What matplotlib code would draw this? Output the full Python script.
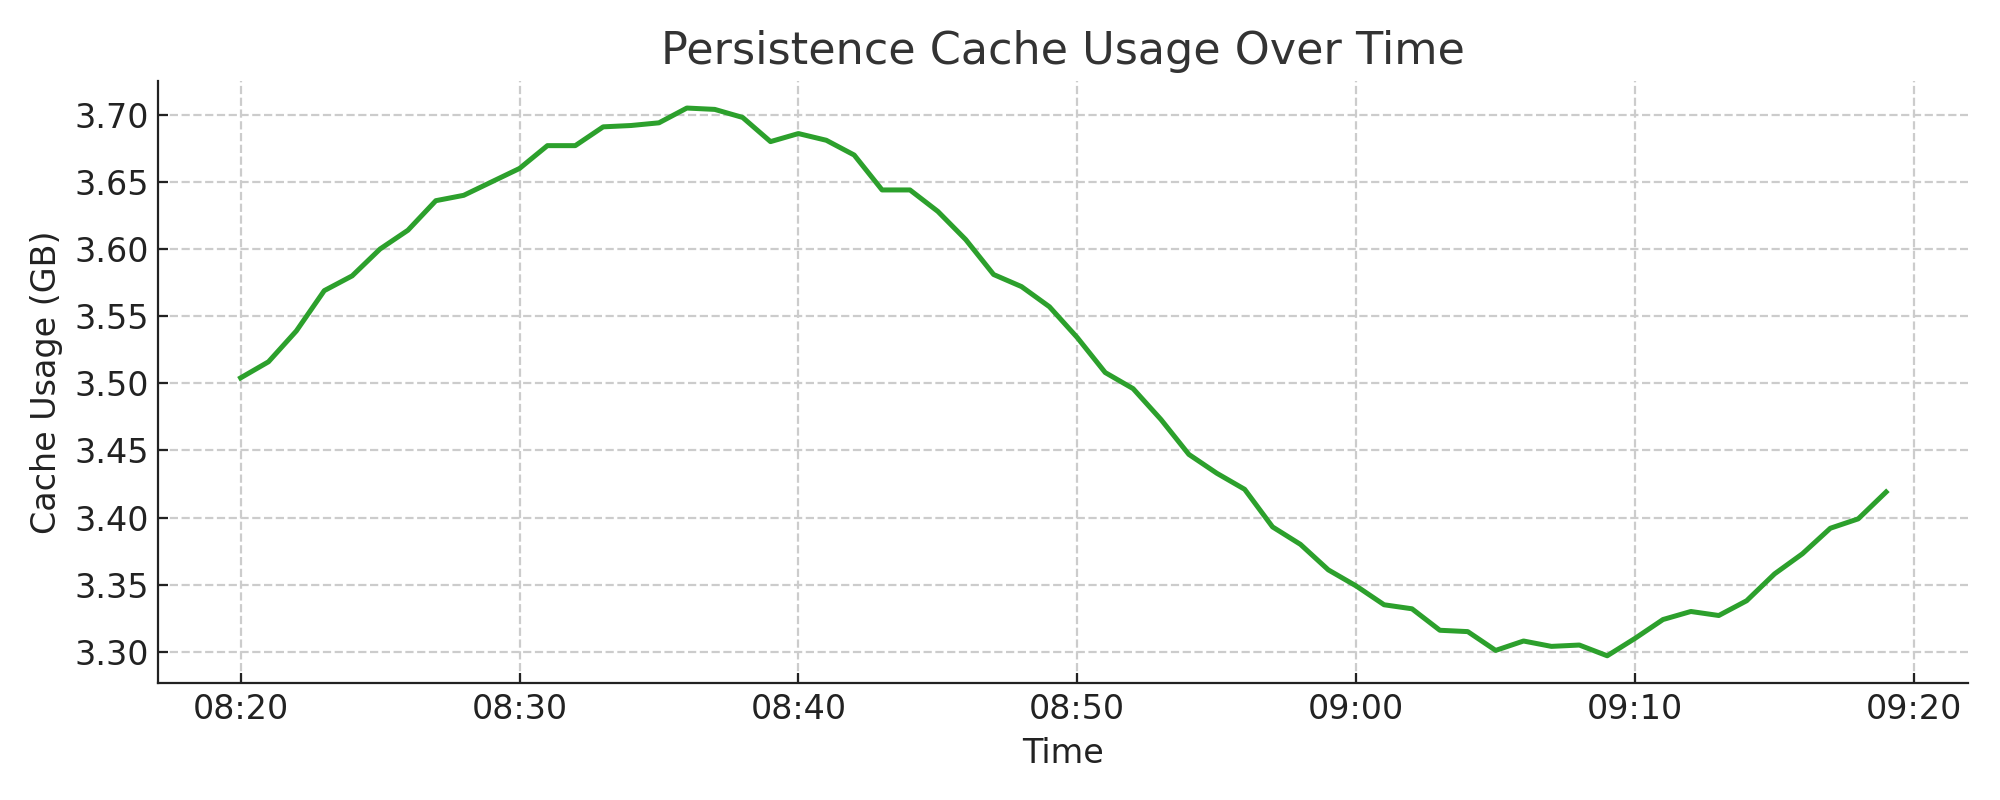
import numpy as np
import matplotlib
matplotlib.use('Agg')
import matplotlib.pyplot as plt
import matplotlib.dates as mdates
import pandas as pd

times = pd.date_range('2024-01-01 08:20', periods=60, freq='min')
usage = [3.504, 3.516, 3.539, 3.569, 3.580, 3.600, 3.614, 3.636, 3.640, 3.650,
         3.660, 3.677, 3.677, 3.691, 3.692, 3.694, 3.705, 3.704, 3.698, 3.680,
         3.686, 3.681, 3.670, 3.644, 3.644, 3.628, 3.607, 3.581, 3.572, 3.557,
         3.534, 3.508, 3.496, 3.473, 3.447, 3.433, 3.421, 3.393, 3.380, 3.361,
         3.349, 3.335, 3.332, 3.316, 3.315, 3.301, 3.308, 3.304, 3.305, 3.297,
         3.310, 3.324, 3.330, 3.327, 3.338, 3.358, 3.373, 3.392, 3.399, 3.419]

fig, ax = plt.subplots(figsize=(10, 4), dpi=200)
ax.plot(times, usage, color='#2ca02c', linewidth=1.8)

ax.set_title('Persistence Cache Usage Over Time', fontsize=16, color='#333333')
ax.set_xlabel('Time', fontsize=12, color='#222222')
ax.set_ylabel('Cache Usage (GB)', fontsize=12, color='#222222')
ax.grid(True, linestyle='--', color='#cccccc', linewidth=0.8)
ax.xaxis.set_major_locator(mdates.MinuteLocator(byminute=[0, 10, 20, 30, 40, 50]))
ax.xaxis.set_major_formatter(mdates.DateFormatter('%H:%M'))
ax.tick_params(direction='in', labelsize=12, colors='#222222')
ax.spines['top'].set_visible(False)
ax.spines['right'].set_visible(False)
for s in ['left', 'bottom']:
    ax.spines[s].set_color('#222222')

plt.tight_layout()
plt.savefig('out.png')
